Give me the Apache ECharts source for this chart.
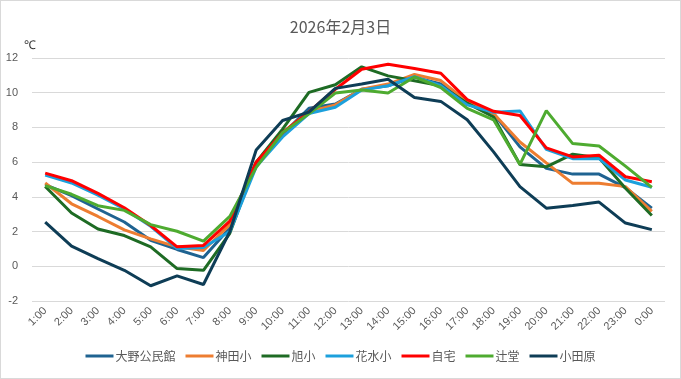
<!DOCTYPE html>
<html><head><meta charset="utf-8">
<script src="https://cdn.jsdelivr.net/npm/echarts@6/dist/echarts.min.js"></script>
<style>html,body{margin:0;padding:0;background:#fff}#c{width:679px;height:377px;border:1px solid #d9d9d9}</style>
</head><body><div id="c"></div>
<script>
const categories = ["1:00","2:00","3:00","4:00","5:00","6:00","7:00","8:00","9:00","10:00","11:00","12:00","13:00","14:00","15:00","16:00","17:00","18:00","19:00","20:00","21:00","22:00","23:00","0:00"];
const ohno   = [4.7,4.07,3.3,2.55,1.5,0.97,0.5,2.2,5.9,7.6,9.1,9.35,10.2,10.4,10.9,10.5,9.4,8.8,6.88,5.64,5.31,5.31,4.53,3.35];
const kanda  = [4.8,3.6,2.87,2.1,1.58,1.12,0.91,2.4,6.0,7.7,8.9,9.3,10.2,10.5,11.05,10.7,9.5,8.8,7.16,5.96,4.78,4.78,4.59,3.16];
const asahi  = [4.6,3.07,2.15,1.77,1.12,-0.13,-0.23,1.9,6.0,7.9,10.02,10.46,11.49,10.97,10.69,10.4,9.4,8.6,5.87,5.73,6.46,6.25,4.5,2.93];
const hanamizu = [5.25,4.8,4.1,3.3,2.3,1.03,1.08,2.0,5.73,7.45,8.8,9.16,10.15,10.4,10.93,10.4,9.3,8.87,8.95,6.74,6.2,6.2,4.97,4.55];
const jitaku = [5.37,4.93,4.2,3.37,2.35,1.12,1.2,2.6,6.0,7.7,8.9,10.2,11.35,11.64,11.39,11.12,9.6,8.93,8.69,6.82,6.3,6.4,5.16,4.87];
const tsujido = [4.65,4.15,3.49,3.22,2.4,2.02,1.45,2.87,5.7,7.7,8.78,9.98,10.15,9.98,10.91,10.3,9.1,8.44,5.87,8.97,7.07,6.93,5.77,4.55];
const odawara = [2.55,1.16,0.44,-0.23,-1.12,-0.55,-1.05,2.0,6.7,8.4,8.88,10.25,10.5,10.78,9.73,9.5,8.44,6.59,4.59,3.35,3.5,3.7,2.49,2.11];
const yTicks = [-2,0,2,4,6,8,10,12];

const names = ["大野公民館","神田小","旭小","花水小","自宅","辻堂","小田原"];
const colors = ["#1f6391","#ed7d31","#1e6b24","#1ca0dc","#ff0000","#4eab30","#0e3d56"];
const datas = [ohno,kanda,asahi,hanamizu,jitaku,tsujido,odawara];

const chart = echarts.init(document.getElementById('c'));
chart.setOption({
  animation:false,
  title:{text:"2026年2月3日",left:'center',top:13,textStyle:{fontSize:16,fontWeight:'normal',color:'#595959',fontFamily:'Noto Sans CJK JP'}},
  legend:{bottom:11,left:'center',itemWidth:28,itemHeight:3,itemGap:10,icon:'rect',
    textStyle:{fontSize:12,color:'#595959',fontFamily:'Noto Sans CJK JP',padding:[0,0,0,-3]},data:names},
  grid:{left:31,right:15,top:57,bottom:77,containLabel:false},
  xAxis:{type:'category',data:categories,boundaryGap:true,
    axisLine:{show:false},axisTick:{show:false},
    axisLabel:{rotate:45,fontSize:11,color:'#595959',interval:0,margin:8,fontFamily:'Liberation Sans'}},
  yAxis:{type:'value',min:yTicks[0],max:yTicks[yTicks.length-1],interval:2,name:'℃',
    nameLocation:'end',nameGap:6,nameTextStyle:{color:'#333',fontSize:12,align:'left',padding:[0,0,0,-8]},
    axisLabel:{fontSize:11,color:'#595959',margin:14,fontFamily:'Liberation Sans'},
    axisLine:{show:false},axisTick:{show:false},
    splitLine:{lineStyle:{color:'#d9d9d9',width:1}}},
  series:names.map((n,i)=>({name:n,type:'line',data:datas[i],showSymbol:false,symbol:'none',
    lineStyle:{width:3,color:colors[i]},itemStyle:{color:colors[i]}}))
});
</script></body></html>
